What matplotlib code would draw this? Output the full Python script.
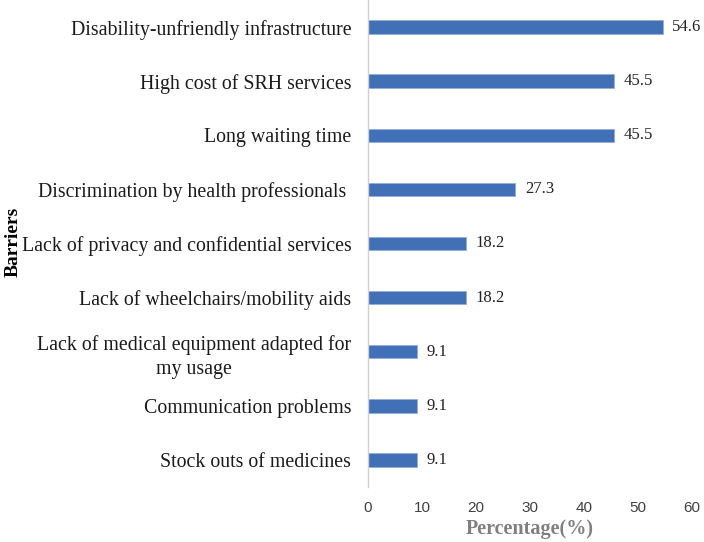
import matplotlib.pyplot as plt
import numpy as np

barriers = [
    "Disability-unfriendly infrastructure",
    "High cost of SRH services",
    "Long waiting time",
    "Discrimination by health professionals ",
    "Lack of privacy and confidential services",
    "Lack of wheelchairs/mobility aids",
    "Lack of medical equipment adapted for\nmy usage",
    "Communication problems",
    "Stock outs of medicines",
]
percent = [54.6, 45.5, 45.5, 27.3, 18.2, 18.2, 9.1, 9.1, 9.1]
xticks = [0, 10, 20, 30, 40, 50, 60]

fig = plt.figure(figsize=(7.04, 5.42), dpi=100)
ax = fig.add_axes([0.5227, 0.1015, 0.460, 0.8985])

y = np.arange(len(barriers))
ax.barh(y, percent, height=0.25, color='#4170B6', edgecolor='#8FB0DA', linewidth=0.6)

for yi, v in zip(y, percent):
    ax.text(v + 1.8, yi, f"{v}", va='center', ha='left',
            fontsize=12, family='Liberation Serif', color='#222222')

ax.set_ylim(len(barriers) - 0.5, -0.5)
ax.set_xlim(0, 60)
ax.set_yticks(y)
ax.set_yticklabels(barriers, family='Liberation Serif', fontsize=14.3,
                   multialignment='center', color='#1a1a1a', linespacing=1.35)
ax.set_xticks(xticks)
ax.set_xticklabels([str(t) for t in xticks], family='Liberation Sans',
                   fontsize=11, color='#404040')
ax.tick_params(axis='both', length=0)
ax.tick_params(axis='y', pad=12)
ax.tick_params(axis='x', pad=10)

for s in ['top', 'right', 'bottom']:
    ax.spines[s].set_visible(False)
ax.spines['left'].set_color('#d0d0d0')
ax.spines['left'].set_linewidth(1)

ax.set_xlabel('Percentage(%)', family='Liberation Serif', fontsize=14.5,
              fontweight='bold', color='#808080', labelpad=3)
fig.text(0.018, 0.553, 'Barriers', rotation=90, va='center', ha='center',
         family='Liberation Serif', fontsize=14, fontweight='bold')

fig.savefig('out.png', dpi=100)
